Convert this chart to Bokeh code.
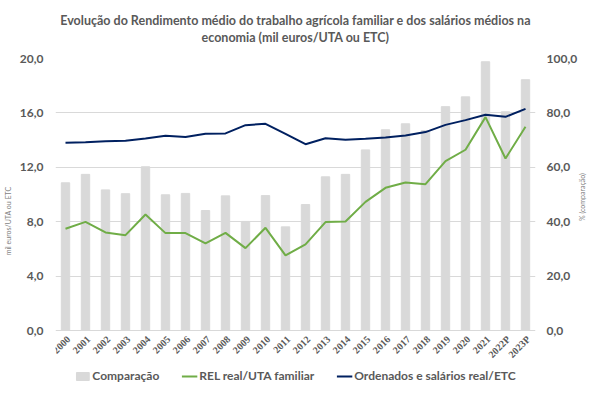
import math
from bokeh.plotting import figure
from bokeh.models import (Range1d, LinearAxis, FixedTicker, Legend, LegendItem,
                          Title, FactorRange, ColumnDataSource)
from bokeh.embed import file_html
from bokeh.resources import INLINE

years = ["2000", "2001", "2002", "2003", "2004", "2005", "2006", "2007", "2008",
         "2009", "2010", "2011", "2012", "2013", "2014", "2015", "2016", "2017",
         "2018", "2019", "2020", "2021", "2022P", "2023P"]
comparacao = [54.3, 57.4, 51.7, 50.3, 60.2, 49.9, 50.4, 44.1, 49.5, 40.1, 49.6, 38.1,
              46.3, 56.5, 57.4, 66.4, 73.8, 76.0, 73.5, 82.3, 85.9, 98.8, 80.4, 92.2]
rel_uta = [7.48, 7.99, 7.21, 7.01, 8.53, 7.16, 7.16, 6.40, 7.18, 6.06, 7.55, 5.52,
           6.33, 7.97, 8.02, 9.46, 10.49, 10.88, 10.76, 12.45, 13.29, 15.69, 12.65, 14.98]
ordenados = [13.80, 13.85, 13.92, 13.95, 14.12, 14.32, 14.22, 14.46, 14.49, 15.10, 15.20, 14.46,
             13.70, 14.14, 14.02, 14.10, 14.19, 14.34, 14.59, 15.12, 15.47, 15.86, 15.71, 16.30]
left_ticks = [0, 4, 8, 12, 16, 20]
right_ticks = [0, 20, 40, 60, 80, 100]

FONT = "Lato"
TXT = "#595959"

# plot area: 272 px for the 0..20 scale, plus 53 px below 0 for year labels and legend
PLOT_H = 272
EXTRA_H = 53
ymin_left = -20 * EXTRA_H / PLOT_H
ymin_right = -100 * EXTRA_H / PLOT_H

p = figure(x_range=FactorRange(*years), y_range=Range1d(ymin_left, 20),
           frame_width=480, frame_height=PLOT_H + EXTRA_H,
           output_backend="svg", toolbar_location=None, x_axis_location=None,
           min_border_left=50, min_border_right=54, min_border_top=58,
           min_border_bottom=0)
p.extra_y_ranges = {"pct": Range1d(ymin_right, 100)}
p.outline_line_color = None
p.x_range.range_padding = 0

bars = p.vbar(x=years, top=comparacao, width=0.42, color="#D9D9D9", y_range_name="pct")
l1 = p.line(years, rel_uta, color="#70AD47", line_width=2)
l2 = p.line(years, ordenados, color="#002060", line_width=2)

# year labels (category axis), rotated 45 degrees under the zero line
lab_src = ColumnDataSource(dict(x=years, y=[0] * len(years), t=years))
p.text(x="x", y="y", text="t", source=lab_src, angle=math.pi / 4,
       text_align="right", text_baseline="middle", x_offset=3, y_offset=7,
       text_font="Lato", text_font_size="10px", text_font_style="bold",
       text_color=TXT)

p.xgrid.grid_line_color = None
p.ygrid.grid_line_color = "#D9D9D9"
p.ygrid.ticker = FixedTicker(ticks=left_ticks)

ya = p.yaxis[0]
ya.ticker = FixedTicker(ticks=left_ticks)
ya.major_label_overrides = {t: f"{t:.1f}".replace(".", ",") for t in left_ticks}
ya.axis_line_color = None
ya.major_tick_line_color = None
ya.minor_tick_line_color = None
ya.major_tick_out = 0
ya.major_label_text_font = FONT
ya.major_label_text_font_style = "bold"
ya.major_label_text_font_size = "12px"
ya.major_label_text_color = TXT
ya.major_label_standoff = 12
ya.axis_label = "mil euros/UTA ou ETC"
ya.axis_label_text_font = FONT
ya.axis_label_text_font_style = "normal"
ya.axis_label_text_font_size = "7px"
ya.axis_label_text_color = "#7F7F7F"
ya.axis_label_standoff = 5

ra = LinearAxis(y_range_name="pct", ticker=FixedTicker(ticks=right_ticks))
ra.major_label_overrides = {t: f"{t:.1f}".replace(".", ",") for t in right_ticks}
ra.axis_line_color = None
ra.major_tick_line_color = None
ra.minor_tick_line_color = None
ra.major_tick_out = 0
ra.major_label_text_font = FONT
ra.major_label_text_font_style = "bold"
ra.major_label_text_font_size = "12px"
ra.major_label_text_color = TXT
ra.major_label_standoff = 11
ra.axis_label = "% (comparação)"
ra.axis_label_text_font = FONT
ra.axis_label_text_font_style = "normal"
ra.axis_label_text_font_size = "7px"
ra.axis_label_text_color = "#7F7F7F"
ra.axis_label_standoff = 2
if hasattr(ra, "axis_label_orientation"):
    ra.axis_label_orientation = math.pi / 2
p.add_layout(ra, "right")

legend = Legend(items=[LegendItem(label="Comparação", renderers=[bars]),
                       LegendItem(label="REL real/UTA familiar", renderers=[l1]),
                       LegendItem(label="Ordenados e salários real/ETC", renderers=[l2])],
                orientation="horizontal", location="bottom_center")
legend.border_line_color = None
legend.background_fill_alpha = 0
legend.label_text_font = FONT
legend.label_text_font_style = "bold"
legend.label_text_font_size = "12px"
legend.label_text_color = TXT
legend.label_height = 14
legend.glyph_width = 16
legend.glyph_height = 10
legend.spacing = 22
legend.padding = 2
legend.margin = 0
legend.label_standoff = 2
p.add_layout(legend)

spacer = Title(text=" ", text_font=FONT, text_font_size="10px", standoff=0)
t2 = Title(text="economia (mil euros/UTA ou ETC)", align="center",
           text_font=FONT, text_font_size="12.5px", text_font_style="bold",
           text_color=TXT, standoff=0)
t1 = Title(text="Evolução do Rendimento médio do trabalho agrícola familiar e dos salários médios na",
           align="center", text_font=FONT, text_font_size="12.5px",
           text_font_style="bold", text_color=TXT, standoff=0)
p.add_layout(spacer, "above")
p.add_layout(t2, "above")
p.add_layout(t1, "above")

open("out.html", "w").write(file_html(p, INLINE))
